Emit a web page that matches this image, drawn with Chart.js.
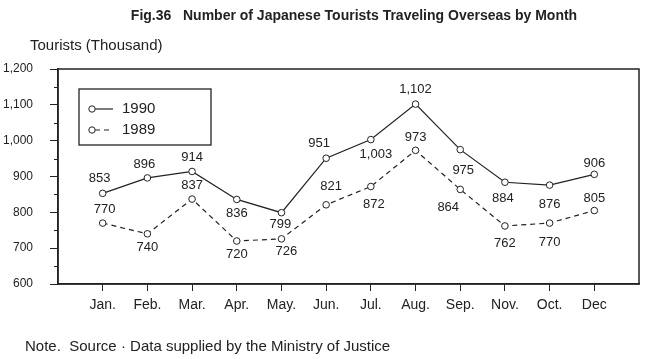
<!DOCTYPE html>
<html>
<head>
<meta charset="utf-8">
<script src="https://cdn.jsdelivr.net/npm/chart.js@4.4.1/dist/chart.umd.min.js"></script>
<style>
  body { margin: 0; background: #fff; }
  #wrap { position: relative; width: 650px; height: 359px; font-family: "Liberation Sans", Arial, sans-serif; color: #222; }
  .txt { position: absolute; white-space: nowrap; line-height: 1; }
  #title { top: 8px; left: 354px; transform: translateX(-50%); font-weight: bold; font-size: 14px; }
  #ytitle { top: 37px; left: 30px; font-size: 15px; }
  #note { top: 338px; left: 25px; font-size: 15px; }
</style>
</head>
<body>
<div id="wrap">
  <canvas id="chart" width="650" height="359"></canvas>
  <div class="txt" id="title">Fig.36&nbsp;&nbsp;&nbsp;Number of Japanese Tourists Traveling Overseas by Month</div>
  <div class="txt" id="ytitle">Tourists (Thousand)</div>
  <div class="txt" id="note">Note.&nbsp;&nbsp;Source · Data supplied by the Ministry of Justice</div>
</div>
<script>
const months = ['Jan.', 'Feb.', 'Mar.', 'Apr.', 'May.', 'Jun.', 'Jul.', 'Aug.', 'Sep.', 'Nov.', 'Oct.', 'Dec'];
const tourists1990 = [853, 896, 914, 836, 799, 951, 1003, 1102, 975, 884, 876, 906];
const tourists1989 = [770, 740, 837, 720, 726, 821, 872, 973, 864, 762, 770, 805];
const yTicks = [600, 700, 800, 900, 1000, 1100, 1200];

// where each value label sits relative to its point [dx, dy]
const labelPos1990 = [[-3, -15], [-3, -14], [0, -14], [0, 14], [-1, 12], [-7, -15], [5, 15], [0, -15], [3, 21], [-2, 16], [0, 19], [0, -11]];
const labelPos1989 = [[2, -14], [0, 14], [0, -14], [0, 13], [5, 13], [5, -18], [3, 18], [0, -13], [-12, 18], [0, 17], [0, 19], [0, -12]];

const ink = '#222';
const fmt = v => v.toLocaleString('en-US');

const valueLabels = {
  id: 'valueLabels',
  afterDatasetsDraw(chart) {
    const ctx = chart.ctx;
    ctx.save();
    ctx.font = '13px "Liberation Sans", Arial, sans-serif';
    ctx.fillStyle = ink;
    ctx.textAlign = 'center';
    ctx.textBaseline = 'middle';
    chart.data.datasets.forEach((ds, di) => {
      const meta = chart.getDatasetMeta(di);
      const pos = di === 0 ? labelPos1990 : labelPos1989;
      meta.data.forEach((pt, i) => {
        ctx.fillText(fmt(ds.data[i].y), pt.x + pos[i][0], pt.y + pos[i][1]);
      });
    });
    ctx.restore();
  }
};

const frame = {
  id: 'frame',
  afterDraw(chart) {
    const { ctx, chartArea: a, scales } = chart;
    ctx.save();
    ctx.strokeStyle = ink;
    ctx.lineWidth = 1.5;
    ctx.strokeRect(a.left, a.top, a.right - a.left, a.bottom - a.top);
    // minor ticks on the value axis
    ctx.lineWidth = 1;
    for (let v = 650; v < 1200; v += 100) {
      const y = Math.round(scales.y.getPixelForValue(v)) + 0.5;
      ctx.beginPath();
      ctx.moveTo(a.left - 4, y);
      ctx.lineTo(a.left, y);
      ctx.stroke();
    }
    // legend box
    const bx = a.left + 21, by = a.top + 20, bw = 132, bh = 56;
    ctx.lineWidth = 1.3;
    ctx.strokeRect(bx, by, bw, bh);
    ctx.font = '15px "Liberation Sans", Arial, sans-serif';
    ctx.fillStyle = ink;
    ctx.textBaseline = 'middle';
    chart.data.datasets.forEach((ds, i) => {
      const y = by + 20 + i * 21;
      ctx.lineWidth = ds.borderWidth;
      ctx.setLineDash(ds.borderDash || []);
      ctx.beginPath();
      ctx.moveTo(bx + 16, y);
      ctx.lineTo(bx + 34, y);
      ctx.stroke();
      ctx.setLineDash([]);
      ctx.lineWidth = 1;
      ctx.beginPath();
      ctx.arc(bx + 13, y, 3.2, 0, Math.PI * 2);
      ctx.fillStyle = '#fff';
      ctx.fill();
      ctx.stroke();
      ctx.fillStyle = ink;
      ctx.fillText(ds.label, bx + 43, y);
    });
    ctx.restore();
  }
};

const pointStyle = {
  pointRadius: 3.3,
  pointBackgroundColor: '#fff',
  pointBorderColor: ink,
  pointBorderWidth: 1,
  borderColor: ink,
  borderWidth: 1.2,
  tension: 0
};

new Chart(document.getElementById('chart'), {
  type: 'line',
  data: {
    datasets: [
      Object.assign({ label: '1990', data: tourists1990.map((v, i) => ({ x: i, y: v })) }, pointStyle),
      Object.assign({ label: '1989', data: tourists1989.map((v, i) => ({ x: i, y: v })), borderDash: [5, 4] }, pointStyle)
    ]
  },
  options: {
    responsive: false,
    animation: false,
    layout: { padding: { top: 69, right: 11, left: 0, bottom: 0 } },
    plugins: { legend: { display: false }, tooltip: { enabled: false } },
    scales: {
      x: {
        type: 'linear',
        min: -1,
        max: 12,
        afterBuildTicks: s => { s.ticks = months.map((m, i) => ({ value: i })); },
        afterFit: s => { s.height = 75; },
        ticks: {
          autoSkip: false,
          maxRotation: 0,
          padding: 6,
          color: ink,
          font: { family: '"Liberation Sans", Arial, sans-serif', size: 14 },
          callback: v => months[v]
        },
        grid: { drawOnChartArea: false, tickLength: 7, color: ink, tickWidth: 1 },
        border: { display: true, color: ink, width: 1.5 }
      },
      y: {
        min: 600,
        max: 1200,
        afterBuildTicks: s => { s.ticks = yTicks.map(v => ({ value: v })); },
        afterFit: s => { s.width = 58; },
        ticks: {
          padding: 17,
          color: ink,
          font: { family: '"Liberation Sans", Arial, sans-serif', size: 12 },
          callback: v => fmt(v)
        },
        grid: { drawOnChartArea: false, tickLength: 8, color: ink, tickWidth: 1 },
        border: { display: true, color: ink, width: 1.5 }
      }
    }
  },
  plugins: [valueLabels, frame]
});
</script>
</body>
</html>
